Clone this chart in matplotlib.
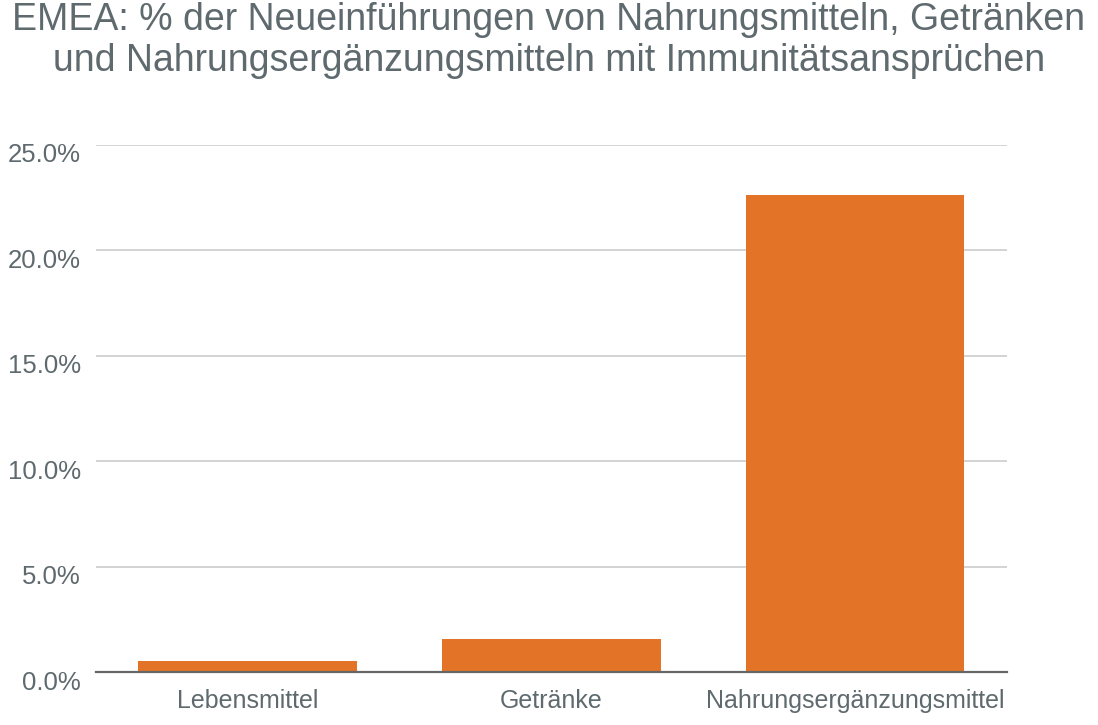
import matplotlib
matplotlib.use("Agg")
import matplotlib.pyplot as plt
from matplotlib.ticker import FuncFormatter
from matplotlib.transforms import ScaledTranslation

categories = ["Lebensmittel", "Getränke", "Nahrungsergänzungsmittel"]
values = [0.54, 1.58, 22.6]
yticks = [0, 5, 10, 15, 20, 25]
title = ("EMEA: % der Neueinführungen von Nahrungsmitteln, Getränken\n"
         "und Nahrungsergänzungsmitteln mit Immunitätsansprüchen")

text_color = "#5f6a6e"
bar_color = "#e37427"

plt.rcParams["font.family"] = ["Liberation Sans", "DejaVu Sans"]

fig = plt.figure(figsize=(10.98, 7.25), dpi=100)
ax = fig.add_axes([0.0874, 0.0731, 0.8296, 0.7273])

x = range(len(categories))
ax.bar(x, values, width=0.72, color=bar_color, zorder=3)

ax.set_xlim(-0.5, len(categories) - 0.5)
ax.set_ylim(0, 25)
ax.set_yticks(yticks)
ax.yaxis.set_major_formatter(FuncFormatter(lambda v, _: f"{v:.1f}%"))
ax.set_xticks(list(x))
ax.set_xticklabels(categories)

ax.grid(axis="y", color="#cccccc", linewidth=1.2, zorder=0)
for s in ["top", "right", "left"]:
    ax.spines[s].set_visible(False)
ax.spines["bottom"].set_color("#666666")
ax.spines["bottom"].set_linewidth(1.6)
ax.spines["bottom"].set_zorder(4)

ax.tick_params(axis="y", length=0, pad=11, labelsize=18.5, labelcolor=text_color)
ax.tick_params(axis="x", length=0, pad=12, labelsize=18, labelcolor=text_color)

# y labels in the original sit a little below their gridlines
shift = ScaledTranslation(0, -0.08, fig.dpi_scale_trans)
for lbl in ax.get_yticklabels():
    lbl.set_transform(lbl.get_transform() + shift)

fig.text(0.5, 0.997, title, ha="center", va="top", fontsize=27,
         color=text_color, linespacing=1.16)

fig.savefig("out.png", dpi=100)
